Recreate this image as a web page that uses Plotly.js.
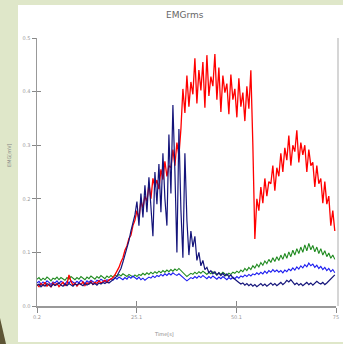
<!DOCTYPE html>
<html>
<head>
<meta charset="utf-8">
<script src="https://cdn.plot.ly/plotly-3.0.1.min.js"></script>
<style>html,body{margin:0;padding:0;background:#dfe7c9;}#chart{width:343px;height:344px;}</style>
</head>
<body>
<div id="chart"></div>
<script>
// Sampling: start time and step (s)
const t0 = 0.2;
const dt = 0.5;

const xTickVals = [0.2, 25.1, 50.1, 75];
const xTickText = ["0.2", "25.1", "50.1", "75"];
const yTickVals = [0, 0.1, 0.2, 0.3, 0.4, 0.5];
const yTickText = ["0.0", "0.1", "0.2", "0.3", "0.4", "0.5"];

const redValues = [
0.040,0.036,0.042,0.038,0.044,0.037,0.041,0.035,0.043,0.039,0.042,0.036,0.040,0.044,0.038,0.041,0.058,0.046,0.039,0.043,0.037,0.042,0.040,0.045,0.038,0.043,0.041,0.046,0.040,0.044,0.042,0.047,0.043,0.045,0.048,0.044,0.049,
0.050,0.053,0.058,0.064,0.072,0.082,0.090,0.104,0.112,0.126,0.132,0.150,0.160,
0.178,0.162,0.198,0.182,0.205,0.195,0.228,0.200,0.238,0.222,0.235,0.218,0.255,0.236,0.270,0.242,0.262,0.258,0.292,0.262,0.305,0.280,
0.330,0.405,0.360,0.430,0.372,0.418,0.395,0.462,0.378,0.440,0.402,0.455,0.370,0.468,0.392,0.428,0.410,0.470,0.385,0.445,0.362,0.430,0.398,0.415,0.358,0.432,0.385,0.405,0.352,0.425,0.372,0.398,0.345,0.410,0.368,0.440,0.300,
0.125,
0.200,0.178,0.222,0.192,0.238,0.205,0.232,0.228,0.262,0.215,0.258,0.242,0.285,0.250,0.295,0.272,0.318,0.262,0.300,0.288,0.328,0.268,0.305,0.282,0.300,0.250,0.292,0.262,0.268,0.222,0.262,0.228,0.238,0.192,0.232,0.190,0.205,0.150,0.178,0.140
];

const navyValues = [
0.038,0.041,0.036,0.040,0.037,0.042,0.039,0.036,0.041,0.038,0.040,0.043,0.039,0.037,0.041,0.038,0.042,0.040,0.037,0.041,0.039,0.043,0.040,0.038,0.042,0.039,0.041,0.044,0.040,0.042,0.039,0.043,0.041,0.044,0.042,0.045,0.043,
0.046,0.048,0.052,0.056,0.062,0.070,0.082,0.095,0.110,0.122,0.140,0.155,0.170,0.195,0.150,0.210,0.165,0.225,0.175,0.240,0.180,0.130,0.250,0.190,0.265,0.175,0.285,0.200,0.150,0.320,0.210,0.375,0.250,0.100,0.330,
0.180,0.090,0.285,0.160,0.095,0.140,0.110,0.130,0.085,0.100,0.075,0.085,0.068,0.072,0.062,0.066,0.060,0.064,0.058,0.062,0.057,0.061,0.056,0.060,0.055,0.058,0.052,0.050,
0.046,0.044,0.041,0.043,0.039,0.042,0.038,0.041,0.037,0.040,0.036,0.039,0.042,0.038,0.041,0.037,0.040,0.043,0.039,0.042,0.038,0.041,0.044,0.040,0.043,0.048,0.045,0.049,0.044,0.040,0.043,0.039,0.042,0.038,0.041,0.044,0.040,0.043,0.039,0.042,0.046,0.043,0.041,0.044,0.040,0.043,0.047,0.050,0.054,0.058
];

const blueValues = [
0.043,0.046,0.041,0.045,0.042,0.047,0.044,0.040,0.045,0.043,0.047,0.042,0.046,0.044,0.041,0.046,0.043,0.047,0.044,0.042,0.046,0.043,0.048,0.045,0.042,0.047,0.044,0.048,0.045,0.043,0.048,0.046,0.050,0.047,0.045,0.049,0.047,
0.051,0.048,0.053,0.050,0.054,0.051,0.049,0.053,0.050,0.055,0.052,0.056,0.053,0.050,0.054,0.049,0.052,0.048,0.051,0.054,0.052,0.056,0.053,0.057,0.055,0.059,0.056,0.060,0.057,0.061,0.058,0.062,0.059,0.057,0.060,
0.056,0.053,0.050,0.047,0.050,0.053,0.051,0.055,0.052,0.056,0.053,0.057,0.054,0.051,0.055,0.052,0.056,0.053,0.050,0.054,0.051,0.055,0.052,0.049,0.053,0.050,0.054,0.051,
0.055,0.052,0.056,0.054,0.058,0.055,0.059,0.056,0.060,0.058,0.062,0.059,0.063,0.060,0.065,0.061,0.066,0.063,0.068,0.064,0.067,0.063,0.066,0.062,0.067,0.064,0.069,0.066,0.071,0.067,0.073,0.069,0.075,0.071,0.077,0.073,0.080,0.075,0.078,0.072,0.076,0.070,0.074,0.068,0.072,0.066,0.070,0.064,0.068,0.062
];

const greenValues = [
0.050,0.053,0.048,0.052,0.049,0.054,0.051,0.047,0.052,0.050,0.054,0.049,0.053,0.051,0.048,0.053,0.050,0.055,0.051,0.049,0.053,0.050,0.055,0.052,0.049,0.054,0.051,0.056,0.052,0.050,0.055,0.052,0.057,0.054,0.051,0.056,0.053,
0.057,0.054,0.058,0.055,0.059,0.056,0.060,0.057,0.055,0.059,0.056,0.054,0.058,0.055,0.059,0.057,0.061,0.058,0.062,0.059,0.063,0.060,0.064,0.061,0.065,0.062,0.066,0.063,0.067,0.064,0.068,0.065,0.069,0.066,0.070,
0.066,0.062,0.058,0.055,0.058,0.061,0.059,0.063,0.060,0.064,0.061,0.065,0.062,0.059,0.063,0.060,0.064,0.061,0.058,0.062,0.059,0.063,0.060,0.057,0.061,0.059,0.063,0.061,
0.065,0.062,0.067,0.064,0.070,0.066,0.072,0.068,0.075,0.071,0.078,0.073,0.081,0.076,0.084,0.079,0.087,0.081,0.090,0.083,0.092,0.085,0.095,0.087,0.098,0.089,0.101,0.092,0.104,0.095,0.107,0.098,0.110,0.100,0.114,0.103,0.117,0.105,0.113,0.101,0.110,0.098,0.107,0.095,0.103,0.092,0.099,0.089,0.095,0.087
];

function timesFor(vals){ return vals.map((_, i) => +(t0 + i*dt).toFixed(2)); }

const mk = (vals, color, w) => ({
  x: timesFor(vals), y: vals, type: 'scatter', mode: 'lines',
  line: {color: color, width: w}, hoverinfo: 'skip', showlegend: false
});

const traces = [
  mk(greenValues, '#1f8a1f', 1.1),
  mk(blueValues, '#1c1cf0', 1.1),
  mk(redValues, '#ff0000', 1.3),
  mk(navyValues, '#14147a', 1.2),
  {x: [], y: [], xaxis: 'x2', yaxis: 'y2', type: 'scatter', showlegend: false}
];

// pixel -> paper helpers (plot area 37..336 x, 38..306 y)
const L = 37, R = 7, T = 38, B = 38, W = 343, H = 344;
const pw = W - L - R, ph = H - T - B;
const px = v => (v - L) / pw;
const py = v => (H - B - v) / ph;

const axisFont = {family: 'DejaVu Sans, sans-serif', size: 5, color: '#999'};

const layout = {
  width: W, height: H,
  margin: {l: L, r: R, t: T, b: B, pad: 0},
  paper_bgcolor: '#dfe7c9',
  plot_bgcolor: 'rgba(0,0,0,0)',
  showlegend: false,
  xaxis: {
    range: [0.2, 75], tickvals: xTickVals, ticktext: xTickText,
    ticks: 'outside', ticklen: 5, tickcolor: '#888', tickwidth: 1,
    showgrid: false, zeroline: false, showline: true, linecolor: '#999', linewidth: 1.5,
    tickfont: axisFont, fixedrange: true
  },
  yaxis: {
    range: [0, 0.5], tickvals: yTickVals, ticktext: yTickText,
    ticks: 'outside', ticklen: 4, tickcolor: '#888', tickwidth: 1,
    showgrid: false, zeroline: false, showline: true, linecolor: '#999', linewidth: 1.5,
    tickfont: axisFont, fixedrange: true
  },
  xaxis2: {
    overlaying: 'x', anchor: 'y2', range: [0.2, 75], tickvals: [25.1, 50.1],
    ticks: 'inside', ticklen: 5, tickcolor: '#888', showticklabels: false,
    showgrid: false, zeroline: false, showline: false, side: 'bottom', fixedrange: true
  },
  yaxis2: {
    overlaying: 'y', anchor: 'x2', range: [0, 0.5], tickvals: yTickVals,
    ticks: 'inside', ticklen: 4, tickcolor: '#888', showticklabels: false,
    showgrid: false, zeroline: false, showline: false, side: 'left', fixedrange: true
  },
  shapes: [
    {type: 'rect', xref: 'paper', yref: 'paper', layer: 'below',
     x0: px(18), x1: px(345), y0: py(342), y1: py(5),
     fillcolor: '#ffffff', line: {width: 0}},
    {type: 'path', xref: 'paper', yref: 'paper', layer: 'above',
     path: `M ${px(0)},${py(318)} L ${px(6)},${py(344)} L ${px(0)},${py(344)} Z`,
     fillcolor: '#5d5535', line: {width: 0}},
    {type: 'line', xref: 'paper', yref: 'paper', layer: 'above',
     x0: px(338), x1: px(338), y0: py(306), y1: py(38),
     line: {color: '#c8c8c8', width: 1.5}}
  ],
  annotations: [
    {text: 'EMGrms', xref: 'paper', yref: 'paper', x: px(185), y: py(15),
     showarrow: false, xanchor: 'center', yanchor: 'middle',
     font: {family: 'DejaVu Sans, sans-serif', size: 9, color: '#666'}},
    {text: 'EMG[mV]', xref: 'paper', yref: 'paper', x: px(9), y: py(155),
     showarrow: false, textangle: -90, xanchor: 'center', yanchor: 'middle',
     font: {family: 'DejaVu Sans, sans-serif', size: 5, color: '#888'}},
    {text: 'Time[s]', xref: 'paper', yref: 'paper', x: px(164), y: py(334),
     showarrow: false, xanchor: 'center', yanchor: 'middle',
     font: {family: 'DejaVu Sans, sans-serif', size: 5, color: '#888'}}
  ]
};

Plotly.newPlot('chart', traces, layout, {displayModeBar: false, staticPlot: true});
</script>
</body>
</html>
